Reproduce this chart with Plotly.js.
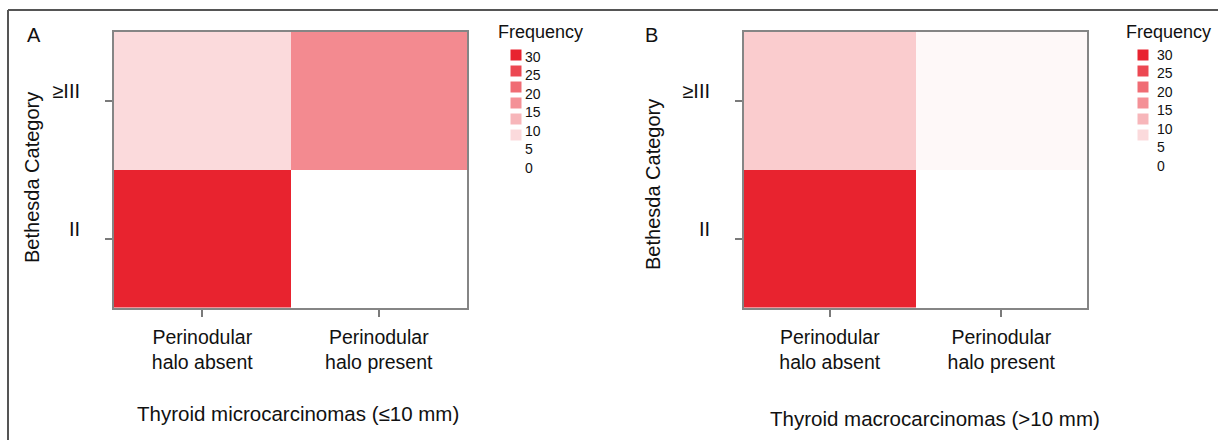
<!DOCTYPE html>
<html><head><meta charset="utf-8">
<script src="https://cdn.plot.ly/plotly-3.0.1.min.js"></script>
<style>html,body{margin:0;padding:0;background:#fff}#chart{width:1222px;height:440px}</style>
</head><body><div id="chart"></div>
<script>
// ---- data ----
const haloCategories = ['Perinodular<br>halo absent', 'Perinodular<br>halo present'];
const bethesdaCategories = ['II', '≥III'];
const microFrequency = [[31, 0], [5, 16]];   // rows: II, ≥III
const macroFrequency = [[30, 0], [7, 1]];    // rows: II, ≥III
const legendValues = [30, 25, 20, 15, 10, 5, 0];
const legendLabels = ['30', '25', '20', '15', '10', '5', '0'];
const panelLetters = ['A', 'B'];
const xTitles = ['Thyroid microcarcinomas (≤10 mm)', 'Thyroid macrocarcinomas (>10 mm)'];
const yTitle = 'Bethesda Category';
const legendTitle = 'Frequency';

// ---- style ----
const W = 1222, H = 440;
const fx = x => x / W, fy = y => 1 - y / H;
const FONT = 'Liberation Sans, Arial, sans-serif';
const scale = [[0, '#ffffff'], [1, '#e8232f']];
const txt = '#111111';

function heat(z, xa, ya) {
  return {type: 'heatmap', x: haloCategories, y: bethesdaCategories, z: z,
    colorscale: scale, zmin: 0, zmax: 30, showscale: false, xaxis: xa, yaxis: ya, hoverinfo: 'x+y+z'};
}
function legendSquares(xa, ya) {
  return {type: 'scatter', mode: 'markers', x: legendValues.map(() => 0), y: legendValues,
    marker: {symbol: 'square', size: 11, color: legendValues, colorscale: scale, cmin: 0, cmax: 30, line: {width: 0}},
    xaxis: xa, yaxis: ya, cliponaxis: false, hoverinfo: 'skip', showlegend: false};
}
function legendText(xa, ya) {
  return {type: 'scatter', mode: 'text', x: legendValues.map(() => 0), y: legendValues, text: legendLabels,
    textposition: 'middle right', textfont: {family: FONT, size: 14, color: txt},
    xaxis: xa, yaxis: ya, cliponaxis: false, hoverinfo: 'skip', showlegend: false};
}

const data = [
  heat(microFrequency, 'x', 'y'),
  heat(macroFrequency, 'x2', 'y2'),
  legendSquares('x3', 'y3'), legendText('x5', 'y4'),
  legendSquares('x4', 'y5'), legendText('x6', 'y6')
];

function catX(dom, anchor) {
  return {domain: dom, anchor: anchor, type: 'category', range: [-0.5, 1.5],
    ticks: 'outside', ticklen: 7, tickwidth: 2, tickcolor: '#7a7a7a',
    showline: true, linecolor: '#858585', linewidth: 2, mirror: true,
    showgrid: false, zeroline: false, fixedrange: true, automargin: false,
    ticklabelstandoff: 4, tickfont: {family: FONT, size: 19.5, color: txt}};
}
function catY(dom, anchor) {
  return {domain: dom, anchor: anchor, type: 'category', range: [-0.5, 1.5],
    ticks: 'outside', ticklen: 7, tickwidth: 2, tickcolor: '#7a7a7a',
    showline: true, linecolor: '#858585', linewidth: 2, mirror: true,
    showgrid: false, zeroline: false, fixedrange: true, automargin: false,
    ticklabelstandoff: 21, ticklabelshift: -10, tickfont: {family: FONT, size: 20, color: txt}};
}
function hidden(dom, anchor, range) {
  return {domain: dom, anchor: anchor, range: range, visible: false, fixedrange: true, showgrid: false, zeroline: false};
}
function note(text, x, y, size, angle) {
  return {text: text, x: fx(x), y: fy(y), xref: 'paper', yref: 'paper', xanchor: 'center', yanchor: 'middle',
    showarrow: false, textangle: angle || 0, font: {family: FONT, size: size, color: txt}};
}

const yDom = [fy(307.5), fy(32)];
const layout = {
  width: W, height: H, margin: {l: 0, r: 0, t: 0, b: 0},
  paper_bgcolor: '#ffffff', plot_bgcolor: '#ffffff', showlegend: false,
  font: {family: FONT, color: txt},
  xaxis: catX([fx(114), fx(467)], 'y'),
  yaxis: catY(yDom, 'x'),
  xaxis2: catX([fx(744), fx(1087)], 'y2'),
  yaxis2: catY(yDom, 'x2'),
  // legend A: squares column and label column
  xaxis3: hidden([fx(510), fx(522)], 'y3', [-0.5, 0.5]),
  yaxis3: hidden([fy(151), fy(55)], 'x3', [0, 30]),
  xaxis5: hidden([fx(525), fx(560)], 'y4', [0, 1]),
  yaxis4: hidden([fy(169), fy(58)], 'x5', [0, 30]),
  // legend B
  xaxis4: hidden([fx(1137), fx(1149)], 'y5', [-0.5, 0.5]),
  yaxis5: hidden([fy(151), fy(55)], 'x4', [0, 30]),
  xaxis6: hidden([fx(1157), fx(1192)], 'y6', [0, 1]),
  yaxis6: hidden([fy(167), fy(56)], 'x6', [0, 30]),
  shapes: [
    {type: 'line', xref: 'paper', yref: 'paper', x0: fx(8), x1: fx(1218), y0: fy(10), y1: fy(10), line: {color: '#555555', width: 2}},
    {type: 'line', xref: 'paper', yref: 'paper', x0: fx(8), x1: fx(8), y0: fy(10), y1: fy(442), line: {color: '#555555', width: 2}}
  ],
  annotations: [
    note(panelLetters[0], 34, 35, 20),
    note(panelLetters[1], 651, 35, 20),
    note(xTitles[0], 298, 413, 20.5),
    note(xTitles[1], 935, 418, 20.5),
    note(yTitle, 32, 178, 20, -90),
    note(yTitle, 653, 185, 20, -90),
    note(legendTitle, 540, 32, 18),
    note(legendTitle, 1168, 32, 18)
  ]
};

Plotly.newPlot('chart', data, layout, {displayModeBar: false, staticPlot: true});
</script>
</body></html>
